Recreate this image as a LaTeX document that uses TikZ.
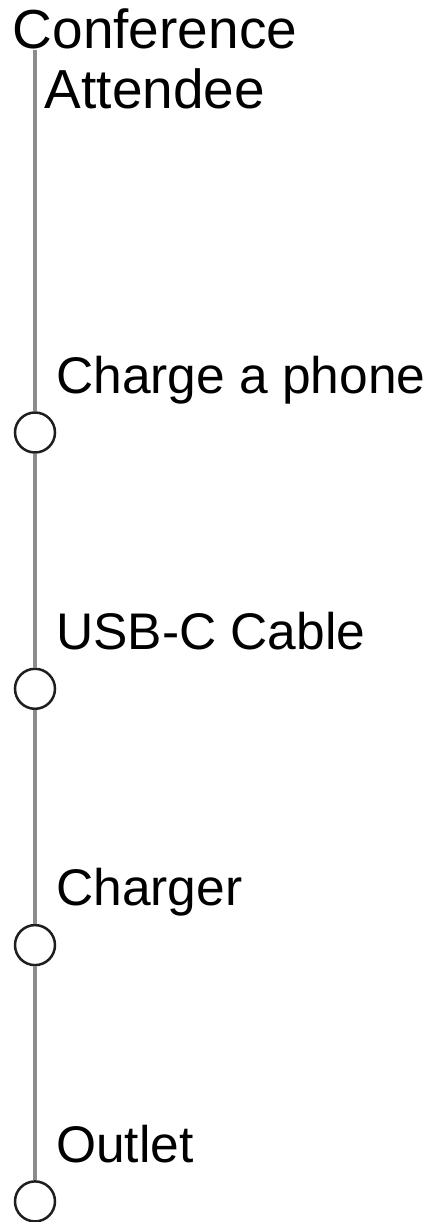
\documentclass[tikz,border=0pt]{standalone}
\usepackage{fontspec}
\setmainfont{Liberation Sans}
\definecolor{linegray}{HTML}{8C8C8C}
\definecolor{ringcol}{HTML}{1E1E1E}
\begin{document}
\begin{tikzpicture}[x=1pt,y=-1pt,
  lbl/.style={anchor=base west, inner sep=0pt, font=\fontsize{51.5}{60}\selectfont, text=black},
  stop/.style={circle, draw=ringcol, line width=2.5pt, fill=white, minimum size=40pt, inner sep=0pt},
  conn/.style={draw=linegray, line width=3.5pt}]
\useasboundingbox (0,0) rectangle (429,1222);
\node[anchor=north, align=center, inner sep=0pt, font=\fontsize{55}{60}\selectfont] (actor) at (155,8.5) {Conference\\Attendee};
\coordinate (top) at (35,50);
\node[stop] (c1) at (35,432.5) {};
\node[stop] (c2) at (35,688.8) {};
\node[stop] (c3) at (35,945.1) {};
\node[stop] (c4) at (35,1201.4) {};
\draw[conn] (top) -- (c1);
\draw[conn] (c1) -- (c2);
\draw[conn] (c2) -- (c3);
\draw[conn] (c3) -- (c4);
\node[lbl] (l1) at (56,393) {Charge a phone};
\node[lbl] (l2) at (56,649) {USB-C Cable};
\node[lbl] (l3) at (56,905) {Charger};
\node[lbl] (l4) at (56,1162) {Outlet};
\end{tikzpicture}
\end{document}
